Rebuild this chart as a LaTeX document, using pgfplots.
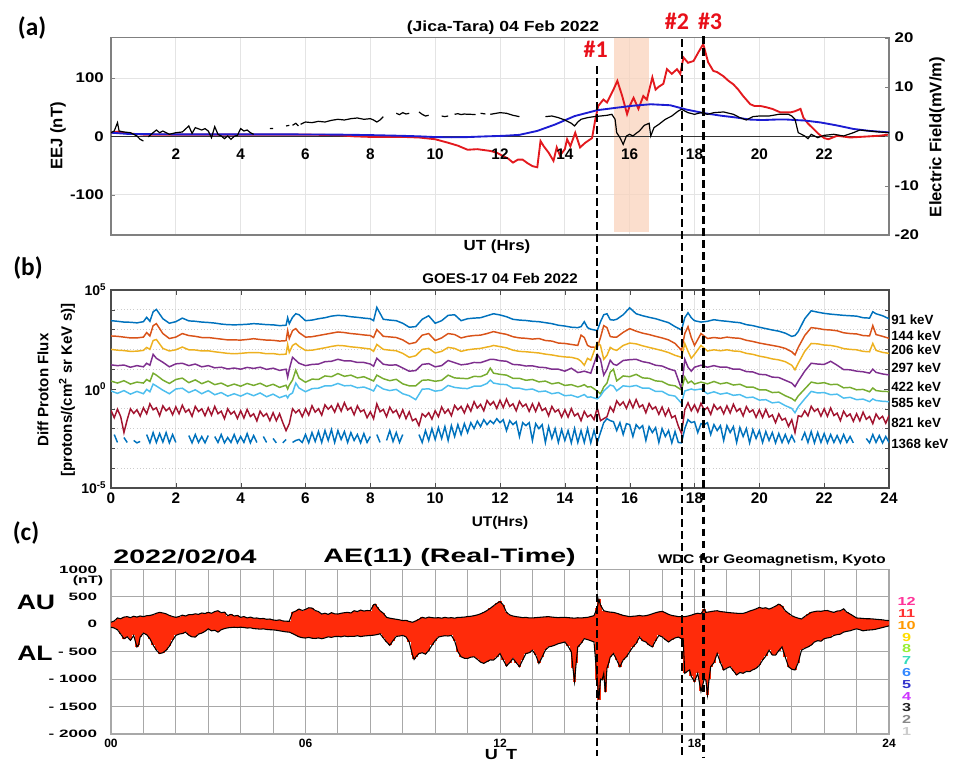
\documentclass[border=0pt]{standalone}
\usepackage{pgfplots}
\pgfplotsset{compat=1.18}
\usepackage{pgfplotstable}
\usepackage{fontspec}
\setmainfont{Liberation Sans}
\newfontfamily\calib{Carlito}
\definecolor{mA}{HTML}{0072BD}
\definecolor{mB}{HTML}{D95319}
\definecolor{mC}{HTML}{EDB120}
\definecolor{mD}{HTML}{7E2F8E}
\definecolor{mE}{HTML}{77AC30}
\definecolor{mF}{HTML}{4DBEEE}
\definecolor{mG}{HTML}{A2142F}
\definecolor{eejred}{HTML}{E3191E}
\definecolor{qblue}{HTML}{1C1CD2}
\definecolor{shadec}{HTML}{F9D3BC}
\definecolor{aered}{HTML}{FF2B0A}
\definecolor{markred}{HTML}{E8101A}
\definecolor{gridc}{HTML}{E4E4E4}
\definecolor{kyogrid}{HTML}{A8A8A8}
\definecolor{frameg}{HTML}{808080}

% ---------- panel (a) data ----------
\pgfplotstableread{
t v
0.0 6
0.2 8
0.5 5
1.0 3
2.0 3
3.0 3
4.0 3
5.0 3
6.0 3
7.0 2
7.5 0
8.0 -1
8.5 -1
9.0 -1
9.5 -2
10.0 -5
10.4 -11
10.7 -16
11.0 -23
11.3 -22
11.7 -25
11.9 -28
12.1 -34
12.25 -38
12.4 -45
12.55 -40
12.7 -40
12.85 -46
13.0 -51
13.15 -53
13.25 -8
13.35 -17
13.5 -28
13.65 -42
13.75 -19
13.85 -33
14.0 -22
14.07 -5
14.17 -17
14.32 6
14.47 -19
14.63 -11
14.84 -3
14.94 29
15.03 52
15.19 63
15.3 58
15.4 69
15.5 80
15.62 95
15.77 69
15.92 38
16.0 52
16.12 66
16.27 47
16.42 69
16.53 63
16.7 101
16.8 80
16.9 85
17.04 90
17.15 115
17.3 107
17.46 115
17.56 107
17.66 135
17.8 126
17.97 129
18.12 144
18.27 158
18.42 127
18.58 112
18.7 110
18.89 103
19.05 95
19.2 89
19.35 80
19.5 69
19.72 55
19.85 52
20.03 52
20.2 50
20.4 47
20.65 41
20.96 41
21.1 43
21.27 47
21.36 32
21.5 22
21.63 15
21.83 4
22.0 -3
22.13 -5
22.4 1
22.8 -2
23.1 -1
23.4 0
23.7 1
24.0 3
}\redtab

\pgfplotstableread{
t v
0.0 0.74
0.5 0.5
1.0 0.45
2.0 0.4
3.0 0.4
4.0 0.4
5.0 0.4
6.0 0.38
7.0 0.35
8.0 0.25
9.0 0.1
9.5 0.0
10.0 -0.15
10.5 -0.2
11.0 -0.15
11.6 0.0
12.1 0.1
12.6 0.3
13.15 1.1
13.7 2.4
14.3 4.1
15.0 5.3
15.6 5.8
16.1 6.2
16.65 6.5
17.25 6.3
17.77 5.4
18.3 4.7
18.8 4.2
19.3 3.8
19.7 3.4
20.1 3.3
20.5 3.4
20.85 3.4
21.4 3.2
21.9 2.8
22.4 2.2
22.9 1.5
23.4 1.1
24.0 0.8
}\bluetab

\pgfplotstableread{
t v
0.0 0.74
0.1 1.08
0.2 2.77
0.25 1.08
0.4 0.88
0.6 0.74
0.8 0.07
0.9 -0.61
1.0 -0.95
1.05 nan
1.15 -0.1
1.3 0.74
1.4 1.28
1.5 0.74
1.6 1.08
1.8 0.41
2.0 0.74
2.2 0.88
2.4 2.1
2.5 0.6
2.6 1.76
2.8 1.28
2.9 1.56
3.0 1.08
3.1 -0.27
3.2 1.96
3.3 0.41
3.4 0.07
3.5 -0.47
3.6 0.07
3.7 -0.61
3.8 0.0
3.9 0.2
4.0 1.56
4.1 1.08
4.2 1.28
4.3 0.74
4.4 0.41
4.45 nan
4.9 1.56
5.0 1.6
5.05 nan
5.4 2.1
5.5 2.23
5.55 nan
5.6 2.23
5.7 2.64
5.78 2.1
5.8 nan
5.85 2.43
5.95 2.77
6.0 2.9
6.2 2.77
6.4 3.04
6.6 2.9
6.8 3.24
7.0 3.45
7.2 3.31
7.4 3.58
7.6 3.72
7.8 3.45
8.0 3.58
8.1 3.31
8.2 2.9
8.3 3.31
8.4 3.99
8.5 nan
8.8 4.67
8.9 4.4
9.0 4.8
9.1 4.53
9.2 4.67
9.3 nan
9.5 4.94
9.6 4.46
9.7 4.12
9.8 4.26
9.85 nan
10.0 4.46
10.1 nan
10.2 4.12
10.3 3.99
10.4 4.12
10.5 nan
10.6 4.46
10.7 4.6
10.8 4.4
10.9 4.53
11.0 4.46
11.1 4.46
11.25 4.4
11.3 nan
11.4 4.67
11.55 4.53
11.6 nan
11.7 4.46
12.0 4.8
12.2 4.67
12.4 4.26
12.6 3.99
12.65 nan
13.4 3.99
13.6 4.12
13.8 3.79
14.0 3.31
14.2 2.64
14.3 2.1
14.4 2.9
14.5 3.45
14.7 3.79
14.9 3.99
15.1 4.12
15.3 4.26
15.45 4.46
15.55 3.45
15.6 0.74
15.7 -0.27
15.8 -1.62
15.9 0.07
16.0 0.41
16.1 0.07
16.2 0.6
16.3 1.08
16.45 2.23
16.6 2.64
16.65 0.07
16.75 1.76
16.9 2.43
17.1 3.45
17.3 4.12
17.5 5.14
17.6 5.48
17.8 4.8
18.0 4.46
18.2 4.8
18.4 4.46
18.6 4.8
18.9 4.94
19.2 4.46
19.4 3.79
19.6 3.31
19.8 3.99
20.0 4.12
20.3 4.12
20.6 4.46
20.9 4.46
21.0 4.12
21.1 3.45
21.2 0.74
21.3 0.41
21.4 0.07
21.5 -0.47
21.6 0.41
21.8 -0.27
22.0 0.2
22.3 0.41
22.6 0.07
22.9 0.74
23.1 1.28
23.4 1.08
23.7 0.88
24.0 0.74
}\blacktab

% ---------- panel (b) data: log10 of flux ----------
\pgfplotstableread{
t c91 c144 c206 c297 c422 c585
0.0 3.45 2.68 2.00 1.22 0.40 -0.10
0.2 3.42 2.66 1.96 1.18 0.30 -0.22
0.4 3.38 2.62 1.94 1.21 0.42 -0.08
0.6 3.37 2.58 1.90 1.10 0.25 -0.26
0.8 3.34 2.58 1.91 1.18 0.35 -0.12
1.0 3.40 2.62 1.95 1.12 0.30 -0.24
1.1 3.62 2.85 2.10 1.30 0.48 -0.02
1.2 3.42 2.68 2.00 1.20 0.38 -0.14
1.3 3.90 3.20 2.45 1.75 0.80 0.25
1.4 4.02 3.30 2.50 1.55 0.70 0.15
1.6 3.55 2.80 2.05 1.35 0.45 -0.06
1.8 3.32 2.55 1.92 1.12 0.28 -0.24
2.0 3.40 2.62 1.98 1.27 0.48 0.00
2.2 3.58 2.80 2.12 1.30 0.55 0.04
2.4 3.44 2.70 1.98 1.18 0.32 -0.18
2.6 3.42 2.66 1.97 1.26 0.46 -0.04
2.8 3.38 2.60 1.92 1.12 0.27 -0.24
3.0 3.36 2.60 1.93 1.18 0.40 -0.08
3.2 3.33 2.56 1.88 1.07 0.22 -0.29
3.4 3.28 2.52 1.84 1.10 0.30 -0.18
3.6 3.25 2.48 1.80 1.01 0.14 -0.36
3.8 3.24 2.48 1.78 1.06 0.25 -0.24
4.0 3.25 2.47 1.80 1.00 0.14 -0.36
4.2 3.27 2.50 1.83 1.09 0.28 -0.21
4.4 3.30 2.54 1.84 1.04 0.18 -0.34
4.6 3.28 2.50 1.83 1.10 0.29 -0.20
4.8 3.25 2.47 1.78 0.99 0.13 -0.39
5.0 3.24 2.46 1.79 1.05 0.24 -0.26
5.2 3.20 2.42 1.74 0.94 0.08 -0.44
5.4 3.22 2.44 1.76 1.00 0.19 -0.32
5.45 3.60 2.95 2.25 0.60 0.00 -0.45
5.5 3.30 2.55 1.85 1.00 0.20 -0.30
5.6 3.62 2.95 2.20 1.60 0.45 -0.20
5.7 3.80 3.05 2.30 1.45 0.95 0.30
5.8 3.75 2.85 2.15 1.30 0.55 0.05
6.0 3.45 2.62 1.95 1.18 0.34 -0.14
6.2 3.48 2.64 1.96 1.24 0.50 0.02
6.4 3.55 2.70 2.02 1.26 0.48 0.04
6.6 3.60 2.76 2.08 1.38 0.66 0.16
6.8 3.68 2.82 2.15 1.40 0.62 0.16
7.0 3.72 2.88 2.20 1.50 0.78 0.28
7.2 3.70 2.85 2.18 1.42 0.64 0.16
7.4 3.65 2.80 2.13 1.42 0.70 0.18
7.6 3.62 2.77 2.10 1.34 0.56 0.06
7.8 3.58 2.73 2.06 1.34 0.62 0.10
8.0 3.55 2.70 2.02 1.26 0.48 -0.02
8.1 3.45 2.60 1.90 1.15 0.40 -0.10
8.2 4.12 3.00 2.25 1.55 0.70 0.20
8.4 3.52 2.66 2.00 1.25 0.52 0.00
8.6 3.48 2.63 1.96 1.20 0.42 -0.08
8.8 3.45 2.60 1.93 1.22 0.49 -0.02
9.0 3.32 2.48 1.80 1.06 0.26 -0.24
9.2 3.12 2.28 1.60 0.90 0.16 -0.34
9.4 3.15 2.35 1.68 0.93 0.16 -0.54
9.6 3.52 2.72 2.00 1.24 0.44 -0.01
9.8 3.70 2.80 2.05 1.28 0.46 0.01
10.0 3.32 2.45 1.82 1.12 0.39 -0.11
10.2 3.45 2.58 1.90 1.18 0.44 -0.06
10.4 3.72 2.80 2.10 1.44 0.70 0.18
10.6 3.75 2.75 2.05 1.33 0.56 0.08
10.8 3.45 2.58 1.90 1.22 0.54 0.04
11.0 3.55 2.66 1.98 1.26 0.52 0.02
11.2 3.58 2.70 2.02 1.34 0.64 0.14
11.4 3.60 2.72 2.05 1.33 0.62 0.14
11.6 3.70 2.80 2.12 1.44 0.76 0.28
11.7 3.75 2.85 2.15 1.50 1.05 0.45
11.8 3.80 2.90 2.20 1.50 0.80 0.30
12.0 3.74 2.82 2.14 1.43 0.74 0.24
12.2 3.65 2.76 2.08 1.40 0.70 0.22
12.4 3.52 2.64 1.96 1.24 0.54 0.04
12.6 3.48 2.58 1.90 1.22 0.54 0.04
12.8 3.46 2.56 1.88 1.16 0.44 -0.04
13.0 3.42 2.52 1.85 1.17 0.48 0.00
13.2 3.40 2.55 1.82 1.10 0.36 -0.14
13.4 3.35 2.45 1.76 1.08 0.40 -0.10
13.6 3.30 2.42 1.72 1.00 0.26 -0.24
13.8 3.22 2.32 1.66 1.00 0.32 -0.18
14.0 3.18 2.30 1.62 0.90 0.18 -0.34
14.2 3.12 2.25 1.60 1.05 0.22 -0.31
14.4 3.10 2.20 1.52 0.83 0.11 -0.42
14.5 3.15 2.72 1.40 0.86 0.15 -0.35
14.6 3.40 2.60 1.20 0.90 0.22 -0.28
14.7 3.10 2.20 1.55 0.85 0.10 -0.42
14.8 3.02 2.12 1.45 0.80 0.12 -0.40
15.0 2.95 2.10 2.35 1.75 -0.10 -0.50
15.1 3.40 2.60 2.20 1.50 -0.25 -0.35
15.2 3.75 3.20 1.50 0.70 0.10 -0.10
15.3 3.80 3.10 1.70 1.00 0.30 0.05
15.4 3.50 2.65 2.10 1.45 0.85 0.20
15.5 3.48 2.62 2.00 1.25 1.00 0.15
15.6 3.52 2.62 1.95 1.20 0.41 -0.09
15.8 3.75 2.86 2.20 1.44 0.66 0.16
16.0 4.10 3.05 2.32 1.48 0.62 0.12
16.2 3.80 2.92 2.28 1.50 0.74 0.18
16.4 3.70 2.82 2.18 1.38 0.56 0.04
16.6 3.62 2.75 2.10 1.32 0.54 0.04
16.8 3.55 2.66 2.02 1.20 0.41 -0.12
17.0 3.45 2.58 1.94 1.16 0.38 -0.12
17.2 3.35 2.48 1.84 1.02 0.21 -0.30
17.4 3.15 2.30 1.70 0.92 0.16 -0.36
17.6 2.98 1.95 1.60 0.00 -0.05 -0.72
17.7 3.60 2.80 2.30 1.50 0.60 -0.10
17.8 3.85 3.15 1.90 1.10 0.30 -0.05
17.9 3.60 2.60 1.55 0.90 0.40 0.00
18.0 3.45 2.20 1.75 1.10 0.25 -0.05
18.2 3.38 2.80 2.20 1.20 0.35 0.00
18.4 3.42 2.55 1.92 1.10 0.26 -0.24
18.6 3.50 2.60 1.98 1.18 0.38 -0.14
18.8 3.45 2.56 1.93 1.10 0.26 -0.26
19.0 3.42 2.62 1.98 1.10 0.32 -0.20
19.2 3.38 2.58 1.92 1.00 0.20 -0.32
19.4 3.35 2.56 1.90 1.00 0.24 -0.28
19.6 3.25 2.46 1.80 0.88 0.10 -0.44
19.8 3.20 2.40 1.75 0.86 0.10 -0.41
20.0 3.12 2.32 1.66 0.74 -0.04 -0.56
20.2 3.05 2.26 1.60 0.72 -0.04 -0.54
20.4 2.98 2.20 1.52 0.60 -0.18 -0.70
20.6 2.92 2.14 1.47 0.58 -0.16 -0.66
20.8 2.82 2.05 1.38 0.44 -0.34 -0.84
21.0 2.66 1.88 1.20 0.30 -0.48 -0.98
21.1 2.70 1.72 0.97 0.12 -0.60 -1.20
21.2 2.90 2.10 1.30 0.40 -0.35 -0.90
21.4 3.55 2.70 1.90 0.90 0.00 -0.50
21.6 3.95 3.10 2.30 1.30 0.35 -0.12
21.8 3.88 3.06 2.28 1.26 0.28 -0.20
22.0 3.82 3.00 2.22 1.24 0.32 -0.18
22.2 3.78 2.98 2.20 1.40 0.22 -0.29
22.4 3.75 2.94 2.14 1.20 0.24 -0.26
22.6 3.72 2.84 2.04 0.98 0.06 -0.46
22.8 3.70 2.80 2.00 0.97 0.08 -0.42
23.0 3.68 2.78 1.98 0.90 -0.04 -0.54
23.2 3.60 2.70 1.90 0.87 -0.02 -0.51
23.4 3.58 2.68 1.88 0.80 -0.14 -0.64
23.5 3.90 3.20 2.30 1.00 0.05 -0.50
23.6 3.80 2.75 1.95 0.84 -0.08 -0.58
23.8 3.70 2.66 1.85 0.76 -0.12 -0.62
24.0 3.55 2.56 1.80 0.71 -0.13 -0.64
}\goesA

\pgfplotstableread{
t c821 c1368
0.0 -1.08 nan
0.1 -1.45 -2.3
0.2 -1.02 -2.7
0.3 -1.4 nan
0.4 -2.2 -2.45
0.5 -1.55 -2.7
0.6 -1.0 nan
0.7 -1.23 -2.6
0.8 -1.05 -2.72
0.9 -1.37 -2.65
1.0 -0.95 nan
1.1 -1.25 -2.3
1.2 -0.75 -2.72
1.3 -1.05 -2.2
1.4 -0.95 -2.7
1.5 -1.35 -2.25
1.6 -0.85 -2.68
1.7 -1.1 -2.2
1.8 -0.95 -2.72
1.9 -1.3 -2.3
2.0 -0.9 -2.7
2.1 -1.25 nan
2.2 -0.82 -2.68
2.3 -1.17 nan
2.4 -1.03 -2.35
2.5 -1.38 -2.72
2.6 -0.88 -2.3
2.7 -1.14 -2.7
2.8 -1.0 -2.4
2.9 -1.35 -2.72
3.0 -0.95 -2.35
3.1 -1.32 nan
3.2 -0.88 -2.4
3.3 -1.25 -2.7
3.4 -1.12 -2.3
3.5 -1.5 -2.72
3.6 -1.0 -2.45
3.7 -1.27 -2.7
3.8 -1.13 -2.3
3.9 -1.49 -2.72
4.0 -1.1 -2.4
4.1 -1.47 -2.7
4.2 -1.03 -2.25
4.3 -1.39 -2.72
4.4 -1.25 -2.35
4.5 -1.61 -2.7
4.6 -1.12 nan
4.7 -1.38 -2.4
4.8 -1.24 -2.7
4.9 -1.6 nan
5.0 -1.2 -2.5
5.1 -1.6 -2.72
5.2 -1.25 nan
5.3 -1.7 -2.72
5.4 -2.1 -2.55
5.5 -1.75 nan
5.6 -1.0 -2.7
5.7 -1.2 -2.6
5.8 -1.05 -2.55
5.9 -1.4 -2.7
6.0 -1.0 -2.3
6.1 -1.32 -2.72
6.2 -0.85 -2.2
6.3 -1.17 -2.65
6.4 -1.0 -2.15
6.5 -1.32 -2.7
6.6 -0.8 -2.1
6.7 -1.02 -2.6
6.8 -0.85 -2.05
6.9 -1.17 -2.7
7.0 -0.75 -2.1
7.1 -1.12 -2.55
7.2 -0.69 -2.15
7.3 -1.06 -2.7
7.4 -0.93 -2.2
7.5 -1.3 -2.6
7.6 -0.85 -2.3
7.7 -1.15 -2.72
7.8 -1.05 -2.25
7.9 -1.45 -2.7
8.0 -1.15 -2.4
8.1 -1.5 nan
8.2 -0.75 -2.3
8.3 -1.15 -2.7
8.4 -1.03 nan
8.5 -1.4 -2.6
8.6 -0.92 -2.1
8.7 -1.2 -2.65
8.8 -1.07 -2.2
8.9 -1.44 -2.7
9.0 -1.05 -2.3
9.1 -1.5 nan
9.2 -1.15 nan
9.3 -1.6 -2.72
9.4 -1.5 nan
9.5 -1.85 -2.3
9.6 -1.25 -2.7
9.7 -1.4 -2.1
9.8 -1.2 -2.6
9.9 -1.52 -2.0
10.0 -1.1 -2.55
10.1 -1.4 -1.95
10.2 -0.91 -2.5
10.3 -1.22 -1.9
10.4 -1.03 -2.6
10.5 -1.35 -1.85
10.6 -0.83 -2.4
10.7 -1.05 -1.8
10.8 -0.88 -2.3
10.9 -1.21 -1.75
11.0 -0.8 -2.2
11.1 -1.12 -1.7
11.2 -0.64 -2.0
11.3 -0.96 -1.62
11.4 -0.78 -1.9
11.5 -1.1 -1.55
11.6 -0.58 -1.8
11.7 -0.81 -1.6
11.8 -0.64 -1.75
11.9 -0.98 -1.5
12.0 -0.57 -1.7
12.1 -0.94 -1.55
12.2 -0.51 -2.1
12.3 -0.88 -1.6
12.4 -0.75 -1.8
12.5 -1.1 -1.65
12.6 -0.62 -2.4
12.7 -0.89 -1.7
12.8 -0.76 -1.85
12.9 -1.13 -1.7
13.0 -0.75 -2.6
13.1 -1.13 -1.75
13.2 -0.71 -2.0
13.3 -1.09 -1.8
13.4 -0.97 -2.7
13.5 -1.35 -1.9
13.6 -0.88 -2.5
13.7 -1.16 -2.0
13.8 -1.04 -2.7
13.9 -1.42 -2.05
14.0 -1.05 -2.6
14.1 -1.42 -2.1
14.2 -0.99 -2.72
14.3 -1.36 -2.0
14.4 -1.23 -2.7
14.5 -1.6 -2.1
14.6 -1.13 -2.7
14.7 -1.41 -2.0
14.8 -1.3 -2.72
14.9 -1.55 -2.1
15.0 -0.95 -2.7
15.1 -1.6 -2.2
15.2 -1.5 -1.7
15.3 -1.4 -1.5
15.4 -0.9 -1.6
15.5 -1.15 -1.65
15.6 -0.6 -2.1
15.7 -0.83 -1.7
15.8 -0.65 -2.3
15.9 -0.98 -1.75
16.0 -0.57 -1.8
16.1 -0.95 -2.4
16.2 -0.53 -1.8
16.3 -0.92 -2.0
16.4 -0.8 -1.85
16.5 -1.2 -2.6
16.6 -0.73 -1.9
16.7 -1.02 -2.2
16.8 -0.9 -1.95
16.9 -1.28 -2.7
17.0 -0.91 -2.0
17.1 -1.35 -2.4
17.2 -1.0 -2.1
17.3 -1.45 -2.72
17.4 -1.35 -2.15
17.5 -1.87 -2.7
17.6 -2.25 -2.72
17.7 -1.05 -2.0
17.8 -0.7 -1.55
17.9 -1.1 -1.7
18.0 -0.8 -1.65
18.1 -1.16 -2.2
18.2 -0.72 -1.75
18.3 -1.07 -1.8
18.4 -0.93 -1.7
18.5 -1.28 -2.3
18.6 -0.79 -1.8
18.7 -1.04 -2.1
18.8 -0.9 -1.85
18.9 -1.25 -2.6
19.0 -0.85 -1.85
19.1 -1.21 -2.2
19.2 -0.77 -1.9
19.3 -1.13 -2.7
19.4 -0.99 -1.95
19.5 -1.36 -2.4
19.6 -0.89 -2.0
19.7 -1.17 -2.72
19.8 -1.05 -2.05
19.9 -1.43 -2.5
20.0 -1.05 -2.1
20.1 -1.44 -2.7
20.2 -1.03 -2.15
20.3 -1.42 -2.6
20.4 -1.31 -2.2
20.5 -1.7 -2.72
20.6 -1.26 -2.25
20.7 -1.57 -2.7
20.8 -1.48 -2.3
20.9 -1.89 -2.72
21.0 -1.55 -2.35
21.1 -2.2 -2.7
21.2 -1.35 nan
21.3 -1.4 -2.6
21.4 -1.1 -2.2
21.5 -1.36 -2.7
21.6 -0.87 -2.15
21.7 -1.13 -2.72
21.8 -1.0 -2.2
21.9 -1.37 -2.7
22.0 -1.0 -2.25
22.1 -1.38 -2.72
22.2 -0.96 -2.3
22.3 -1.34 -2.7
22.4 -1.22 -2.35
22.5 -1.6 -2.72
22.6 -1.12 -2.3
22.7 -1.39 -2.7
22.8 -1.26 -2.4
22.9 -1.63 -2.72
23.0 -1.25 nan
23.1 -1.61 -2.72
23.2 -1.17 nan
23.3 -1.53 -2.5
23.4 -1.39 -2.72
23.5 -1.75 -2.3
23.6 -1.26 -2.7
23.7 -1.52 -2.35
23.8 -1.38 -2.72
23.9 -1.73 -2.4
24.0 -1.34 -2.7
}\goesB

% ---------- panel (c) data ----------
\pgfplotstableread{
t v
0.0 36
0.1 60
0.2 114
0.3 100
0.4 130
0.5 138
0.6 120
0.7 145
0.8 130
0.9 150
1.0 138
1.1 155
1.2 160
1.3 175
1.4 200
1.5 216
1.6 205
1.7 190
1.8 160
1.9 140
2.0 126
2.1 140
2.2 165
2.3 150
2.4 175
2.5 174
2.6 190
2.7 180
2.8 205
2.9 195
3.0 216
3.1 200
3.2 230
3.3 246
3.4 210
3.5 220
3.6 156
3.7 180
3.8 150
3.9 160
4.0 126
4.1 140
4.2 115
4.3 130
4.4 110
4.5 114
4.6 100
4.7 105
4.8 90
4.9 95
5.0 78
5.1 70
5.2 80
5.3 60
5.4 55
5.5 54
5.6 216
5.7 240
5.8 276
5.9 250
6.0 270
6.1 300
6.2 294
6.3 250
6.4 230
6.5 186
6.6 200
6.7 180
6.8 210
6.9 190
7.0 186
7.1 200
7.2 210
7.3 216
7.4 205
7.5 246
7.6 230
7.7 258
7.8 240
7.9 250
8.0 246
8.1 354
8.15 366
8.2 320
8.3 246
8.4 200
8.5 126
8.6 110
8.7 100
8.8 90
8.9 80
9.0 66
9.1 70
9.2 50
9.3 36
9.4 60
9.5 90
9.6 126
9.7 110
9.8 130
9.9 120
10.0 114
10.1 120
10.2 110
10.3 125
10.4 114
10.5 120
10.6 110
10.7 125
10.8 126
10.9 130
11.0 140
11.1 145
11.2 156
11.3 170
11.4 190
11.5 216
11.6 250
11.7 290
11.8 336
11.9 380
12.0 414
12.1 350
12.2 216
12.3 170
12.4 150
12.5 138
12.6 130
12.7 120
12.8 125
12.9 115
13.0 114
13.1 120
13.2 125
13.3 130
13.4 135
13.5 138
13.6 130
13.7 125
13.8 120
13.9 126
14.0 126
14.1 120
14.2 115
14.3 110
14.4 118
14.5 114
14.6 120
14.7 125
14.8 140
14.9 156
15.0 300
15.05 456
15.1 350
15.2 246
15.3 230
15.4 220
15.5 216
15.6 200
15.7 180
15.8 160
15.9 150
16.0 138
16.1 145
16.2 150
16.3 160
16.4 150
16.5 156
16.6 170
16.7 190
16.8 210
16.9 225
17.0 234
17.1 210
17.2 180
17.3 160
17.4 150
17.5 138
17.6 140
17.7 138
17.8 150
17.9 165
18.0 186
18.1 200
18.2 190
18.3 276
18.35 216
18.4 220
18.5 230
18.6 240
18.7 246
18.8 230
18.9 225
19.0 216
19.1 210
19.2 205
19.3 200
19.4 196
19.5 198
19.6 215
19.7 240
19.8 258
19.9 280
20.0 306
20.1 290
20.2 300
20.3 276
20.4 300
20.5 330
20.6 366
20.7 330
20.8 246
20.9 200
21.0 156
21.1 130
21.2 110
21.3 96
21.4 140
21.5 180
21.6 216
21.7 230
21.8 240
21.9 235
22.0 246
22.1 250
22.2 230
22.3 216
22.4 240
22.5 246
22.6 280
22.7 220
22.8 186
22.9 150
23.0 114
23.1 110
23.2 105
23.3 100
23.4 100
23.5 96
23.6 90
23.7 85
23.8 80
23.9 70
24.0 66
}\autab

\pgfplotstableread{
t v
0.0 -54
0.1 -70
0.2 -102
0.3 -180
0.4 -264
0.5 -230
0.6 -294
0.7 -204
0.8 -414
0.85 -380
0.9 -234
1.0 -162
1.1 -190
1.2 -264
1.3 -380
1.4 -474
1.5 -534
1.6 -520
1.7 -474
1.8 -400
1.9 -294
2.0 -204
2.1 -180
2.2 -170
2.3 -144
2.4 -200
2.5 -230
2.6 -234
2.7 -180
2.8 -162
2.9 -130
3.0 -84
3.1 -120
3.2 -110
3.3 -144
3.4 -100
3.5 -80
3.6 -66
3.7 -60
3.8 -55
3.9 -60
4.0 -54
4.1 -60
4.2 -70
4.3 -65
4.4 -80
4.5 -84
4.6 -90
4.7 -85
4.8 -95
4.9 -100
5.0 -102
5.1 -110
5.2 -120
5.3 -130
5.4 -140
5.5 -144
5.6 -170
5.7 -200
5.8 -230
5.9 -245
6.0 -252
6.1 -240
6.2 -255
6.3 -260
6.4 -250
6.5 -264
6.6 -250
6.7 -230
6.8 -240
6.9 -225
7.0 -222
7.1 -230
7.2 -215
7.3 -225
7.4 -220
7.5 -222
7.6 -210
7.7 -225
7.8 -215
7.9 -210
8.0 -204
8.1 -200
8.2 -190
8.3 -174
8.4 -250
8.5 -324
8.6 -384
8.7 -300
8.8 -222
8.9 -215
9.0 -204
9.1 -230
9.2 -324
9.3 -560
9.35 -642
9.4 -600
9.5 -534
9.6 -520
9.7 -546
9.8 -480
9.9 -384
10.0 -300
10.1 -234
10.2 -220
10.3 -210
10.4 -215
10.5 -204
10.6 -300
10.7 -500
10.8 -594
10.9 -620
11.0 -624
11.1 -600
11.2 -594
11.3 -640
11.4 -690
11.5 -714
11.6 -680
11.7 -650
11.8 -654
11.9 -600
12.0 -534
12.1 -650
12.2 -762
12.3 -700
12.4 -624
12.5 -700
12.6 -774
12.7 -650
12.8 -534
12.9 -520
13.0 -474
13.1 -560
13.2 -714
13.3 -600
13.4 -470
13.5 -414
13.6 -400
13.7 -380
13.8 -354
13.9 -340
14.0 -324
14.1 -400
14.2 -504
14.25 -800
14.3 -1044
14.35 -700
14.4 -414
14.5 -350
14.6 -264
14.7 -280
14.8 -300
14.9 -324
15.0 -1014
15.05 -1374
15.1 -1000
15.15 -1014
15.2 -900
15.25 -1242
15.3 -800
15.35 -714
15.4 -600
15.5 -534
15.6 -650
15.7 -774
15.8 -650
15.9 -594
16.0 -500
16.1 -414
16.2 -350
16.3 -234
16.4 -300
16.5 -324
16.6 -380
16.7 -414
16.8 -300
16.9 -204
17.0 -230
17.1 -280
17.2 -324
17.3 -280
17.4 -250
17.5 -234
17.6 -264
17.65 -264
17.7 -894
17.8 -850
17.85 -834
17.9 -950
18.0 -1044
18.1 -894
18.2 -1224
18.3 -1000
18.35 -1014
18.4 -1284
18.45 -1000
18.5 -774
18.6 -700
18.7 -534
18.8 -700
18.9 -834
19.0 -800
19.1 -774
19.2 -850
19.3 -924
19.4 -880
19.5 -894
19.6 -860
19.7 -864
19.8 -830
19.9 -804
20.0 -750
20.1 -654
20.2 -580
20.3 -474
20.4 -560
20.5 -564
20.6 -480
20.7 -414
20.8 -600
20.9 -774
21.0 -820
21.1 -834
21.2 -700
21.3 -474
21.4 -440
21.5 -414
21.6 -380
21.7 -324
21.8 -300
21.9 -310
22.0 -264
22.1 -250
22.2 -240
22.3 -204
22.4 -190
22.5 -180
22.6 -144
22.7 -130
22.8 -120
22.9 -100
23.0 -84
23.1 -100
23.2 -120
23.3 -110
23.4 -105
23.5 -100
23.6 -90
23.7 -75
23.8 -60
23.9 -45
24.0 -30
}\altab

\newcommand{\fa}{\bfseries\fontsize{10.5}{12}\selectfont}
\newcommand{\fax}{\bfseries\fontsize{11.5}{13}\selectfont}
\newcommand{\fky}{\bfseries\fontsize{8}{9}\selectfont}
\newcommand{\fkx}{\bfseries\fontsize{9}{10}\selectfont}

\begin{document}
\begin{tikzpicture}
\path[use as bounding box] (0,0) rectangle (714.75pt,570.75pt);

% ================= panel (a), left axis (nT) =================
\begin{axis}[
  at={(83.25pt,394.5pt)}, anchor=south west, scale only axis,
  width=583.5pt, height=148pt,
  xmin=0, xmax=24, ymin=-169, ymax=169,
  xtick={2,4,...,22}, xticklabels={}, xtick style={draw=none},
  ytick={-100,0,100}, yticklabels={-100,0,100},
  ytick pos=left, tick align=inside, major tick length=3pt,
  ytick style={frameg},
  grid=major, grid style={gridc, line width=0.6pt},
  axis line style={frameg, line width=0.9pt},
  yticklabel style={font=\fa, xscale=1.2, anchor=east, xshift=-1pt},
  clip=false, unbounded coords=jump]
\fill[shadec, fill opacity=0.75] (axis cs:15.52,-164) rectangle (axis cs:16.6,169);
\draw[black!80, line width=0.8pt] (axis cs:0,0) -- (axis cs:24,0);
\addplot[eejred, line width=1.4pt] table {\redtab};
\pgfplotsinvokeforeach{2,4,...,22}{\node[font=\fax] at (axis cs:#1,-31) {#1};}
\coordinate (d1t) at (axis cs:15.0,120);
\coordinate (d2t) at (axis cs:17.61,166);
\coordinate (d3t) at (axis cs:18.28,171);
\node[font=\calib\bfseries\fontsize{18}{20}\selectfont, text=markred] at (axis cs:14.95,149) {\#1};
\node[font=\calib\bfseries\fontsize{18}{20}\selectfont, text=markred] at (axis cs:17.46,197) {\#2};
\node[font=\calib\bfseries\fontsize{18}{20}\selectfont, text=markred] at (axis cs:18.48,197) {\#3};
\end{axis}

% ================= panel (a), right axis (mV/m) =================
\begin{axis}[
  at={(83.25pt,394.5pt)}, anchor=south west, scale only axis,
  width=583.5pt, height=148pt,
  xmin=0, xmax=24, ymin=-20, ymax=20,
  axis x line=none, axis y line*=right,
  y axis line style={frameg, line width=0.9pt},
  ytick={-20,-10,0,10,20}, yticklabels={-20,-10,0,10,20},
  tick align=inside, major tick length=3pt, ytick style={frameg},
  yticklabel style={font=\fa, xscale=1.2},
  unbounded coords=jump]
\addplot[qblue, line width=1.4pt] table {\bluetab};
\addplot[black, line width=0.9pt] table {\blacktab};
\end{axis}

% ================= panel (b) =================
\begin{axis}[
  at={(83.25pt,204.75pt)}, anchor=south west, scale only axis,
  width=583.5pt, height=148.5pt,
  xmin=0, xmax=24, ymin=-5, ymax=5,
  xtick={0,2,...,24}, xticklabels={0,2,4,6,8,10,12,14,16,18,20,22,24},
  ytick={-5,0,5},
  yticklabels={{10\textsuperscript{-5}},{10\textsuperscript{0}},{10\textsuperscript{5}}},
  minor ytick={-4,-3,-2,-1,1,2,3,4},
  xmajorgrids, yminorgrids,
  major x grid style={gridc, line width=0.6pt},
  minor y grid style={gray!40, dotted, line width=0.6pt},
  tick align=inside, major tick length=3.5pt, minor tick length=3pt,
  tick style={black!70},
  axis line style={black!70, line width=0.8pt},
  xticklabel style={font=\fax},
  yticklabel style={font=\fa},
  unbounded coords=jump]
\addplot[mA, line width=1.1pt] table[x=t, y=c91] {\goesA};
\addplot[mB, line width=1.1pt] table[x=t, y=c144] {\goesA};
\addplot[mC, line width=1.1pt] table[x=t, y=c206] {\goesA};
\addplot[mD, line width=1.1pt] table[x=t, y=c297] {\goesA};
\addplot[mE, line width=1.1pt] table[x=t, y=c422] {\goesA};
\addplot[mF, line width=1.1pt] table[x=t, y=c585] {\goesA};
\addplot[mG, line width=1.1pt] table[x=t, y=c821] {\goesB};
\addplot[mA, line width=1.1pt] table[x=t, y=c1368] {\goesB};
\end{axis}

% ================= panel (c) =================
\begin{axis}[
  at={(83.25pt,20.25pt)}, anchor=south west, scale only axis,
  width=583.5pt, height=123.5pt,
  xmin=0, xmax=24, ymin=-2000, ymax=1000,
  xtick={0,1,...,24},
  xticklabels={00,,,,,,06,,,,,,12,,,,,,18,,,,,,24},
  ytick={-2000,-1500,...,1000},
  yticklabels={- 2000,- 1500,- 1000,- 500,0,500,1000},
  grid=major, grid style={kyogrid, line width=0.7pt},
  tick style={draw=none},
  axis line style={kyogrid, line width=0.9pt},
  xticklabel style={font=\fkx},
  yticklabel style={font=\fky, xscale=1.6, anchor=east, xshift=-3pt}]
\addplot[ycomb, aered, line width=2.7pt] table {\autab};
\addplot[ycomb, aered, line width=2.7pt] table {\altab};
\addplot[black, line width=0.8pt] table {\autab};
\addplot[black, line width=0.8pt] table {\altab};
\coordinate (d1b) at (axis cs:15.0,-2400);
\coordinate (d2b) at (axis cs:17.61,-2420);
\coordinate (d3b) at (axis cs:18.28,-2420);
\end{axis}

% dashed event lines
\draw[black, line width=1.7pt, dash pattern=on 5.5pt off 3.5pt] (d1t) -- (d1b);
\draw[black, line width=1.7pt, dash pattern=on 5.5pt off 3.5pt] (d2t) -- (d2b);
\draw[black, line width=1.7pt, dash pattern=on 5.5pt off 3.5pt] (d3t) -- (d3b);

% ---------- texts ----------
\node[font=\calib\bfseries\fontsize{19}{21}\selectfont] at (24pt,549.75pt) {(a)};
\node[font=\calib\bfseries\fontsize{19}{21}\selectfont] at (21pt,369.75pt) {(b)};
\node[font=\calib\bfseries\fontsize{19}{21}\selectfont] at (19.5pt,171pt) {(c)};

\node[font=\bfseries\fontsize{11}{13}\selectfont, xscale=1.2] at (377.25pt,549.75pt) {(Jica-Tara) 04 Feb 2022};
\node[font=\bfseries\fontsize{11}{13}\selectfont, xscale=1.15] at (372.75pt,385.5pt) {UT (Hrs)};
\node[font=\bfseries\fontsize{12.5}{14}\selectfont, rotate=90] at (43.5pt,468.75pt) {EEJ (nT)};
\node[font=\bfseries\fontsize{12.5}{14}\selectfont, rotate=90] at (702.75pt,468pt) {Electric Field(mV/m)};

\node[font=\bfseries\fontsize{10.5}{12}\selectfont, xscale=1.08] at (375pt,362.25pt) {GOES-17 04 Feb 2022};
\node[font=\bfseries\fontsize{10.5}{12}\selectfont, xscale=1.1] at (375pt,178.5pt) {UT(Hrs)};
\node[font=\bfseries\fontsize{11.3}{13}\selectfont, rotate=90] at (32.25pt,278.25pt) {Diff Proton Flux};
\node[font=\bfseries\fontsize{11.3}{13}\selectfont, rotate=90] at (50.25pt,278.25pt) {[protons/(cm\textsuperscript{2} sr KeV s)]};

\begin{scope}[every node/.style={font=\bfseries\fontsize{10}{12}\selectfont, anchor=west, inner sep=0pt}]
\node at (668.25pt,330.75pt) {91 keV};
\node at (668.25pt,318.75pt) {144 keV};
\node at (668.25pt,308.8pt) {206 keV};
\node at (668.25pt,295.3pt) {297 keV};
\node at (668.25pt,280.7pt) {422 keV};
\node at (668.25pt,268.7pt) {585 keV};
\node at (668.25pt,253.7pt) {821 keV};
\node at (668.25pt,237.75pt) {1368 keV};
\end{scope}

\node[font=\bfseries\fontsize{14.6}{16}\selectfont, xscale=1.47, anchor=west, inner sep=0pt] at (84.75pt,153pt) {2022/02/04};
\node[font=\bfseries\fontsize{14.6}{16}\selectfont, xscale=1.47, anchor=west, inner sep=0pt] at (242.25pt,153pt) {AE(11) (Real-Time)};
\node[font=\bfseries\fontsize{9.4}{11}\selectfont, xscale=1.22, anchor=east, inner sep=0pt] at (664.5pt,150.75pt) {WDC for Geomagnetism, Kyoto};
\node[font=\bfseries\fontsize{15.7}{17}\selectfont, xscale=1.27] at (27pt,119.25pt) {AU};
\node[font=\bfseries\fontsize{15.7}{17}\selectfont, xscale=1.27] at (26.25pt,81pt) {AL};
\node[font=\fky, xscale=1.5] at (66pt,135pt) {(nT)};
\node[font=\bfseries\fontsize{11}{12}\selectfont, xscale=1.23, inner sep=0pt, anchor=south] at (375.75pt,0.5pt) {U\, T};

\begin{scope}[every node/.style={font=\bfseries\fontsize{8.7}{10}\selectfont, xscale=1.4, inner sep=0pt}]
\node[text={rgb,255:red,255;green,51;blue,153}] at (680pt,119.5pt) {12};
\node[text={rgb,255:red,255;green,51;blue,51}] at (680pt,110.6pt) {11};
\node[text={rgb,255:red,255;green,153;blue,0}] at (680pt,101.8pt) {10};
\node[text={rgb,255:red,255;green,221;blue,0}] at (680pt,92.9pt) {9};
\node[text={rgb,255:red,153;green,238;blue,51}] at (680pt,84.1pt) {8};
\node[text={rgb,255:red,51;green,221;blue,187}] at (680pt,75.2pt) {7};
\node[text={rgb,255:red,51;green,136;blue,255}] at (680pt,66.4pt) {6};
\node[text={rgb,255:red,51;green,51;blue,204}] at (680pt,57.5pt) {5};
\node[text={rgb,255:red,204;green,51;blue,255}] at (680pt,48.7pt) {4};
\node[text={rgb,255:red,34;green,34;blue,34}] at (680pt,39.8pt) {3};
\node[text={rgb,255:red,136;green,136;blue,136}] at (680pt,31pt) {2};
\node[text={rgb,255:red,204;green,204;blue,204}] at (680pt,22.1pt) {1};
\end{scope}
\end{tikzpicture}
\end{document}
